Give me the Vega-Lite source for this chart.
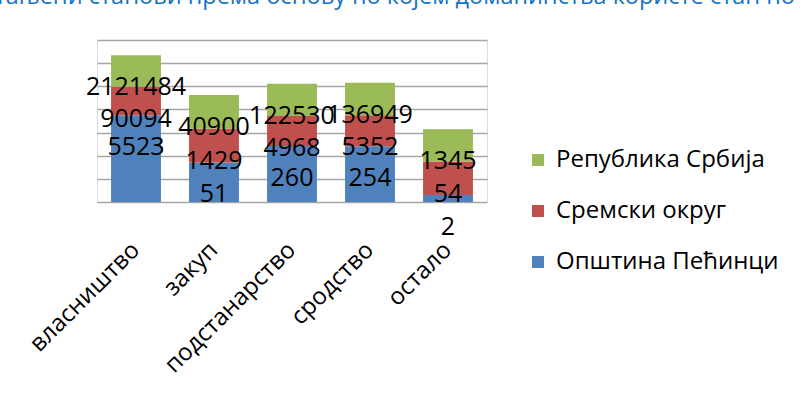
{
  "$schema": "https://vega.github.io/schema/vega-lite/v6.json",
  "width": 390,
  "height": 162,
  "autosize": {"type": "none"},
  "padding": {"left": 97, "top": 40, "right": 314, "bottom": 202},
  "background": "white",
  "title": {
    "text": "Настањени станови према основу по којем домаћинства користе стан по",
    "anchor": "start",
    "frame": "group",
    "font": "Open Sans",
    "fontSize": 23.5,
    "fontWeight": "normal",
    "color": "#1473C8",
    "baseline": "alphabetic",
    "offset": 13,
    "dx": -144
  },
  "data": {
    "values": [
      {"основ": "власништво", "Општина Пећинци": 5523, "Сремски округ": 90094, "Република Србија": 2121484},
      {"основ": "закуп", "Општина Пећинци": 51, "Сремски округ": 1429, "Република Србија": 40900},
      {"основ": "подстанарство", "Општина Пећинци": 260, "Сремски округ": 4968, "Република Србија": 122530},
      {"основ": "сродство", "Општина Пећинци": 254, "Сремски округ": 5352, "Република Србија": 136949},
      {"основ": "остало", "Општина Пећинци": 2, "Сремски округ": 54, "Република Србија": 1345}
    ]
  },
  "transform": [
    {"fold": ["Општина Пећинци", "Сремски округ", "Република Србија"], "as": ["регион", "број"]},
    {"stack": "број", "groupby": ["основ"], "as": ["y0", "y1"]}
  ],
  "encoding": {
    "x": {
      "field": "основ",
      "type": "nominal",
      "sort": null,
      "scale": {"paddingInner": 0.36, "paddingOuter": 0.18},
      "axis": {
        "title": null,
        "labelAngle": -45,
        "labelAlign": "right",
        "labelBaseline": "middle",
        "ticks": false,
        "tickSize": 0,
        "domain": false,
        "grid": false,
        "labelPadding": 44,
        "labelFont": "Open Sans",
        "labelFontSize": 24,
        "labelColor": "#000000",
        "labelOverlap": false,
        "labelLimit": 0
      }
    }
  },
  "layer": [
    {
      "mark": {"type": "bar"},
      "encoding": {
        "y": {
          "field": "y1",
          "type": "quantitative",
          "scale": {"type": "log", "domain": [1, 10000000], "clamp": true, "nice": false},
          "axis": {
            "values": [1, 10, 100, 1000, 10000, 100000, 1000000, 10000000],
            "labels": false,
            "ticks": false,
            "domain": false,
            "title": null,
            "grid": true,
            "gridColor": "#A6A6A6",
            "gridWidth": 1.3
          }
        },
        "y2": {"field": "y0"},
        "color": {
          "field": "регион",
          "type": "nominal",
          "scale": {
            "domain": ["Република Србија", "Сремски округ", "Општина Пећинци"],
            "range": ["#9BBB59", "#C0504D", "#4F81BD"]
          },
          "legend": {
            "orient": "none",
            "legendX": 429,
            "legendY": 108,
            "title": null,
            "padding": 0,
            "symbolType": "square",
            "symbolSize": 144,
            "symbolStrokeWidth": 0,
            "labelFont": "Open Sans",
            "labelFontSize": 24,
            "labelColor": "#000000",
            "labelOffset": 6,
            "rowPadding": 27,
            "labelLimit": 0
          }
        }
      }
    },
    {
      "mark": {"type": "text", "dy": 32, "font": "Open Sans", "fontSize": 25, "color": "#000000"},
      "encoding": {
        "y": {"field": "y1", "type": "quantitative"},
        "text": {"field": "број", "type": "quantitative", "format": "d"}
      }
    }
  ]
}
